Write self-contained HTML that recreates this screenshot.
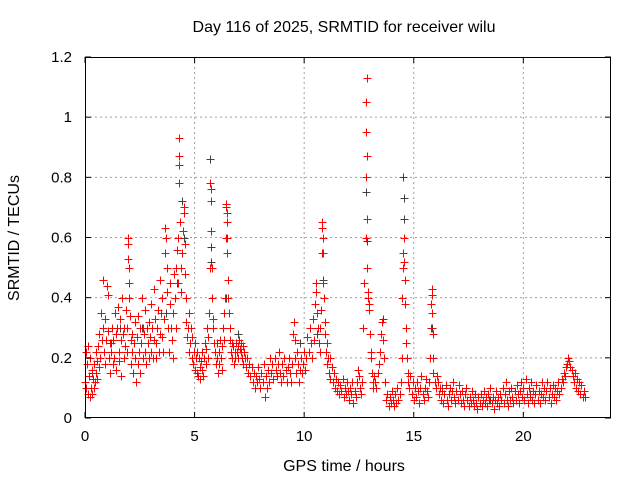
<!DOCTYPE html>
<html><head><meta charset="utf-8"><style>
body{margin:0;background:#fff;}
svg{display:block;font-family:"Liberation Sans","DejaVu Sans",sans-serif;}
</style></head><body>
<svg id="chart" width="640" height="480" viewBox="0 0 640 480"></svg>
<script>
const xTicks=[0,5,10,15,20];
const yTicks=[0,0.2,0.4,0.6,0.8,1,1.2];
const yTickLabels=["0","0.2","0.4","0.6","0.8","1","1.2"];
const redPoints=[
[0,0.12],[0.03,0.22],[0.06,0.1],[0.09,0.18],[0.12,0.08],[0.15,0.24],[0.18,0.14],[0.21,0.07],[0.24,0.2],[0.27,0.1],[0.3,0.16],[0.33,0.08],[0.36,0.13],[0.39,0.1],[0.42,0.18],[0.45,0.12],[0.48,0.22],[0.51,0.15],[0.54,0.19],[0.57,0.13],[0.6,0.24],[0.63,0.17],[0.66,0.28],[0.7,0.2],[0.73,0.35],[0.76,0.26],[0.8,0.46],[0.83,0.3],[0.86,0.22],[0.9,0.33],[0.93,0.18],[0.96,0.26],[1.0,0.44],[1.03,0.41],[1.06,0.29],[1.1,0.2],[1.13,0.25],[1.16,0.15],[1.2,0.22],[1.23,0.3],[1.26,0.18],[1.3,0.26],[1.33,0.2],[1.36,0.35],[1.4,0.28],[1.43,0.16],[1.46,0.3],[1.5,0.37],[1.53,0.22],[1.56,0.19],[1.6,0.33],[1.63,0.26],[1.66,0.14],[1.7,0.4],[1.73,0.28],[1.76,0.2],[1.8,0.3],[1.83,0.24],[1.86,0.36],[1.9,0.22],[1.93,0.3],[1.96,0.6],[1.97,0.58],[1.98,0.53],[1.99,0.5],[2.0,0.45],[2.02,0.4],[2.05,0.34],[2.08,0.26],[2.1,0.18],[2.13,0.28],[2.16,0.22],[2.2,0.15],[2.23,0.25],[2.26,0.32],[2.3,0.2],[2.33,0.12],[2.36,0.27],[2.4,0.18],[2.43,0.34],[2.46,0.22],[2.5,0.3],[2.53,0.15],[2.56,0.25],[2.6,0.4],[2.63,0.3],[2.66,0.2],[2.7,0.28],[2.73,0.22],[2.76,0.36],[2.8,0.18],[2.83,0.3],[2.86,0.25],[2.9,0.2],[2.93,0.32],[2.96,0.27],[3.0,0.22],[3.03,0.38],[3.06,0.3],[3.1,0.2],[3.13,0.26],[3.16,0.43],[3.2,0.33],[3.23,0.25],[3.26,0.2],[3.3,0.3],[3.33,0.36],[3.36,0.22],[3.4,0.28],[3.43,0.46],[3.46,0.35],[3.5,0.4],[3.53,0.27],[3.56,0.22],[3.6,0.33],[3.63,0.55],[3.66,0.63],[3.7,0.6],[3.73,0.5],[3.76,0.42],[3.8,0.3],[3.83,0.22],[3.86,0.38],[3.9,0.45],[3.93,0.3],[3.96,0.26],[4.0,0.2],[4.03,0.35],[4.06,0.48],[4.1,0.4],[4.13,0.3],[4.16,0.5],[4.2,0.56],[4.23,0.45],[4.26,0.6],[4.28,0.93],[4.29,0.87],[4.3,0.84],[4.31,0.78],[4.33,0.65],[4.36,0.5],[4.4,0.42],[4.43,0.55],[4.46,0.62],[4.5,0.7],[4.52,0.68],[4.54,0.58],[4.56,0.48],[4.6,0.4],[4.63,0.32],[4.66,0.27],[4.7,0.3],[4.73,0.22],[4.76,0.35],[4.8,0.25],[4.83,0.3],[4.86,0.2],[4.9,0.27],[4.93,0.18],[4.96,0.22],[5.0,0.16],[5.03,0.25],[5.06,0.2],[5.1,0.15],[5.13,0.22],[5.16,0.14],[5.2,0.2],[5.23,0.17],[5.26,0.13],[5.3,0.19],[5.33,0.16],[5.36,0.22],[5.4,0.14],[5.43,0.2],[5.46,0.25],[5.5,0.18],[5.53,0.23],[5.56,0.3],[5.6,0.2],[5.63,0.27],[5.66,0.35],[5.7,0.5],[5.72,0.78],[5.73,0.76],[5.74,0.72],[5.76,0.62],[5.78,0.5],[5.8,0.4],[5.83,0.33],[5.86,0.3],[5.9,0.25],[5.93,0.22],[5.96,0.18],[6.0,0.25],[6.03,0.2],[6.06,0.15],[6.1,0.22],[6.13,0.18],[6.16,0.26],[6.2,0.2],[6.23,0.16],[6.26,0.24],[6.3,0.3],[6.33,0.26],[6.36,0.35],[6.4,0.4],[6.43,0.6],[6.44,0.71],[6.45,0.7],[6.46,0.68],[6.47,0.65],[6.48,0.6],[6.5,0.55],[6.52,0.46],[6.54,0.4],[6.56,0.35],[6.6,0.3],[6.63,0.26],[6.66,0.22],[6.7,0.25],[6.73,0.2],[6.76,0.24],[6.8,0.18],[6.83,0.22],[6.86,0.2],[6.9,0.25],[6.93,0.22],[6.96,0.2],[7.0,0.24],[7.03,0.26],[7.06,0.23],[7.1,0.25],[7.13,0.22],[7.16,0.2],[7.2,0.24],[7.23,0.18],[7.26,0.22],[7.3,0.2],[7.35,0.17],[7.4,0.2],[7.45,0.15],[7.5,0.18],[7.55,0.14],[7.6,0.17],[7.65,0.12],[7.7,0.15],[7.75,0.1],[7.8,0.14],[7.85,0.12],[7.9,0.17],[7.95,0.13],[8.0,0.1],[8.05,0.15],[8.1,0.12],[8.15,0.18],[8.2,0.07],[8.25,0.14],[8.3,0.1],[8.35,0.16],[8.4,0.12],[8.45,0.2],[8.5,0.15],[8.55,0.18],[8.6,0.13],[8.65,0.2],[8.7,0.16],[8.75,0.14],[8.8,0.18],[8.85,0.22],[8.9,0.15],[8.95,0.12],[9.0,0.18],[9.05,0.14],[9.1,0.2],[9.15,0.16],[9.2,0.12],[9.25,0.17],[9.3,0.2],[9.35,0.15],[9.4,0.12],[9.45,0.18],[9.5,0.28],[9.53,0.32],[9.56,0.26],[9.6,0.2],[9.63,0.15],[9.66,0.22],[9.7,0.18],[9.75,0.12],[9.8,0.16],[9.85,0.2],[9.9,0.15],[9.95,0.18],[10.0,0.22],[10.05,0.16],[10.1,0.2],[10.15,0.27],[10.2,0.22],[10.25,0.3],[10.3,0.25],[10.35,0.2],[10.4,0.33],[10.45,0.26],[10.5,0.38],[10.53,0.45],[10.56,0.42],[10.6,0.35],[10.63,0.3],[10.66,0.25],[10.7,0.3],[10.73,0.22],[10.76,0.36],[10.8,0.55],[10.82,0.65],[10.83,0.63],[10.84,0.6],[10.86,0.55],[10.88,0.45],[10.9,0.4],[10.93,0.32],[10.96,0.28],[11.0,0.22],[11.03,0.18],[11.06,0.25],[11.1,0.2],[11.13,0.15],[11.16,0.2],[11.2,0.13],[11.25,0.17],[11.3,0.12],[11.35,0.15],[11.4,0.1],[11.45,0.13],[11.5,0.09],[11.55,0.12],[11.6,0.08],[11.65,0.11],[11.7,0.09],[11.75,0.13],[11.8,0.07],[11.85,0.1],[11.9,0.08],[11.95,0.12],[12.0,0.09],[12.05,0.06],[12.1,0.1],[12.15,0.08],[12.2,0.12],[12.25,0.05],[12.3,0.09],[12.35,0.07],[12.4,0.12],[12.45,0.16],[12.5,0.14],[12.55,0.1],[12.6,0.08],[12.65,0.12],[12.7,0.3],[12.75,0.45],[12.8,0.6],[12.82,0.8],[12.83,0.95],[12.84,1.05],[12.85,1.13],[12.86,0.87],[12.87,0.66],[12.88,0.5],[12.9,0.42],[12.92,0.4],[12.94,0.38],[12.96,0.36],[13.0,0.28],[13.03,0.22],[13.06,0.2],[13.1,0.15],[13.13,0.12],[13.16,0.1],[13.2,0.14],[13.25,0.12],[13.3,0.1],[13.35,0.15],[13.4,0.18],[13.45,0.22],[13.5,0.28],[13.55,0.32],[13.6,0.26],[13.65,0.2],[13.7,0.12],[13.75,0.06],[13.8,0.08],[13.85,0.04],[13.9,0.07],[13.95,0.05],[14.0,0.09],[14.05,0.06],[14.1,0.04],[14.15,0.08],[14.2,0.05],[14.25,0.1],[14.3,0.06],[14.35,0.08],[14.4,0.12],[14.45,0.2],[14.48,0.4],[14.5,0.5],[14.52,0.55],[14.54,0.6],[14.56,0.52],[14.58,0.46],[14.6,0.38],[14.63,0.3],[14.66,0.25],[14.7,0.2],[14.73,0.15],[14.76,0.12],[14.8,0.1],[14.85,0.14],[14.9,0.08],[14.95,0.12],[15.0,0.06],[15.05,0.1],[15.1,0.07],[15.15,0.12],[15.2,0.09],[15.25,0.05],[15.3,0.1],[15.35,0.14],[15.4,0.08],[15.45,0.06],[15.5,0.1],[15.55,0.13],[15.6,0.09],[15.65,0.07],[15.7,0.12],[15.75,0.2],[15.78,0.3],[15.8,0.38],[15.81,0.43],[15.82,0.41],[15.84,0.35],[15.86,0.28],[15.88,0.2],[15.9,0.15],[15.95,0.12],[16.0,0.1],[16.05,0.14],[16.1,0.12],[16.15,0.08],[16.2,0.1],[16.25,0.06],[16.3,0.09],[16.35,0.05],[16.4,0.08],[16.45,0.11],[16.5,0.06],[16.55,0.04],[16.6,0.08],[16.65,0.1],[16.7,0.06],[16.75,0.09],[16.8,0.12],[16.85,0.07],[16.9,0.05],[16.95,0.09],[17.0,0.06],[17.05,0.11],[17.1,0.08],[17.15,0.05],[17.2,0.09],[17.25,0.06],[17.3,0.04],[17.35,0.08],[17.4,0.1],[17.45,0.06],[17.5,0.04],[17.55,0.07],[17.6,0.05],[17.65,0.09],[17.7,0.06],[17.75,0.04],[17.8,0.08],[17.85,0.05],[17.9,0.03],[17.95,0.07],[18.0,0.05],[18.05,0.08],[18.1,0.04],[18.15,0.06],[18.2,0.09],[18.25,0.05],[18.3,0.07],[18.35,0.04],[18.4,0.08],[18.45,0.06],[18.5,0.1],[18.55,0.05],[18.6,0.07],[18.65,0.03],[18.7,0.06],[18.75,0.09],[18.8,0.05],[18.85,0.07],[18.9,0.04],[18.95,0.08],[19.0,0.06],[19.05,0.1],[19.1,0.05],[19.15,0.08],[19.2,0.12],[19.25,0.06],[19.3,0.04],[19.35,0.09],[19.4,0.06],[19.45,0.1],[19.5,0.07],[19.55,0.05],[19.6,0.09],[19.65,0.06],[19.7,0.11],[19.75,0.08],[19.8,0.05],[19.85,0.09],[19.9,0.12],[19.95,0.07],[20.0,0.1],[20.05,0.06],[20.1,0.13],[20.15,0.08],[20.2,0.05],[20.25,0.1],[20.3,0.07],[20.35,0.12],[20.4,0.06],[20.45,0.09],[20.5,0.05],[20.55,0.08],[20.6,0.11],[20.65,0.06],[20.7,0.09],[20.75,0.05],[20.8,0.08],[20.85,0.12],[20.9,0.07],[20.95,0.1],[21.0,0.06],[21.05,0.09],[21.1,0.12],[21.15,0.07],[21.2,0.1],[21.25,0.05],[21.3,0.08],[21.35,0.11],[21.4,0.07],[21.45,0.1],[21.5,0.06],[21.55,0.09],[21.6,0.12],[21.65,0.08],[21.7,0.1],[21.75,0.13],[21.8,0.12],[21.85,0.15],[21.9,0.14],[21.95,0.17],[22.0,0.18],[22.05,0.2],[22.1,0.19],[22.15,0.17],[22.2,0.16],[22.25,0.14],[22.3,0.12],[22.35,0.15],[22.4,0.1],[22.45,0.13],[22.5,0.09],[22.55,0.12],[22.6,0.08],[22.65,0.11],[22.7,0.07],[22.75,0.09],[22.8,0.07]
];
const grayPoints=[
[0.3,0.15],[0.7,0.2],[1.2,0.25],[1.6,0.3],[2.6,0.3],[3.1,0.2],[3.7,0.35],[4.2,0.45],[4.42,0.72],[4.5,0.6],[5.0,0.25],[5.72,0.86],[5.75,0.57],[5.77,0.52],[6.45,0.4],[6.6,0.3],[7.0,0.28],[9.8,0.25],[10.6,0.28],[10.85,0.46],[11.2,0.2],[12.83,0.75],[12.86,0.59],[13.6,0.33],[14.52,0.8],[14.54,0.73],[14.56,0.66],[15.82,0.3],[16.3,0.1],[18.5,0.06],[20.3,0.08]
];

const NS="http://www.w3.org/2000/svg";
const svg=document.getElementById('chart');
const L=85,R=611,T=57,B=418,XMAX=24,YMAX=1.2;
const xs=v=>L+(R-L)*v/XMAX;
const ys=v=>B-(B-T)*v/YMAX;
function mk(tag,attrs,parent){const e=document.createElementNS(NS,tag);for(const k in attrs)e.setAttribute(k,attrs[k]);(parent||svg).appendChild(e);return e;}

const grid=mk('g',{});


xTicks.forEach(t=>{if(t>0)mk('line',{x1:xs(t),x2:xs(t),y1:T,y2:B,stroke:'#a0a0a0','stroke-dasharray':'2,3'},grid);});
yTicks.forEach(t=>{if(t>0&&t<YMAX)mk('line',{x1:L,x2:R,y1:ys(t),y2:ys(t),stroke:'#a0a0a0','stroke-dasharray':'2,3'},grid);});

function drawSeries(pts,color,name){
  const g=mk('g',{stroke:color,'stroke-width':1});
  
  
  pts.forEach(p=>{
    const x=Math.round(xs(p[0]))+0.5,y=Math.round(ys(p[1]))+0.5;
    const m=mk('path',{d:`M${x-4},${y}h8M${x},${y-4}v8`,fill:'none'},g);
    
    
  });
}
drawSeries(grayPoints,'#404040','gray-series');
drawSeries(redPoints,'#ff0000','red-series');

const frame=mk('rect',{x:L+0.5,y:T+0.5,width:R-L-1,height:B-T-1,fill:'none',stroke:'#000'});



xTicks.forEach(t=>{
  const x=xs(t);
  mk('line',{x1:x,x2:x,y1:B,y2:B-6,stroke:'#000'});
  mk('line',{x1:x,x2:x,y1:T,y2:T+6,stroke:'#000'});
  const tx=mk('text',{x:x,y:B+23,'text-anchor':'middle','font-size':15,fill:'#000'});
  tx.textContent=t;
  
  
});
yTicks.forEach((t,i)=>{
  const y=ys(t);
  mk('line',{x1:L,x2:L+6,y1:y,y2:y,stroke:'#000'});
  mk('line',{x1:R,x2:R-6,y1:y,y2:y,stroke:'#000'});
  const tx=mk('text',{x:L-13,y:y+5,'text-anchor':'end','font-size':15,fill:'#000'});
  tx.textContent=yTickLabels[i];
  
  
});
const title=mk('text',{x:344,y:32,'text-anchor':'middle','font-size':16,fill:'#000'});
title.textContent='Day 116 of 2025, SRMTID for receiver wilu';


const xt=mk('text',{x:344,y:471,'text-anchor':'middle','font-size':16,fill:'#000'});
xt.textContent='GPS time / hours';


const yt=mk('text',{x:0,y:0,'text-anchor':'middle','font-size':16,fill:'#000',transform:'translate(19,238) rotate(-90)'});
yt.textContent='SRMTID / TECUs';


</script>
</body></html>
